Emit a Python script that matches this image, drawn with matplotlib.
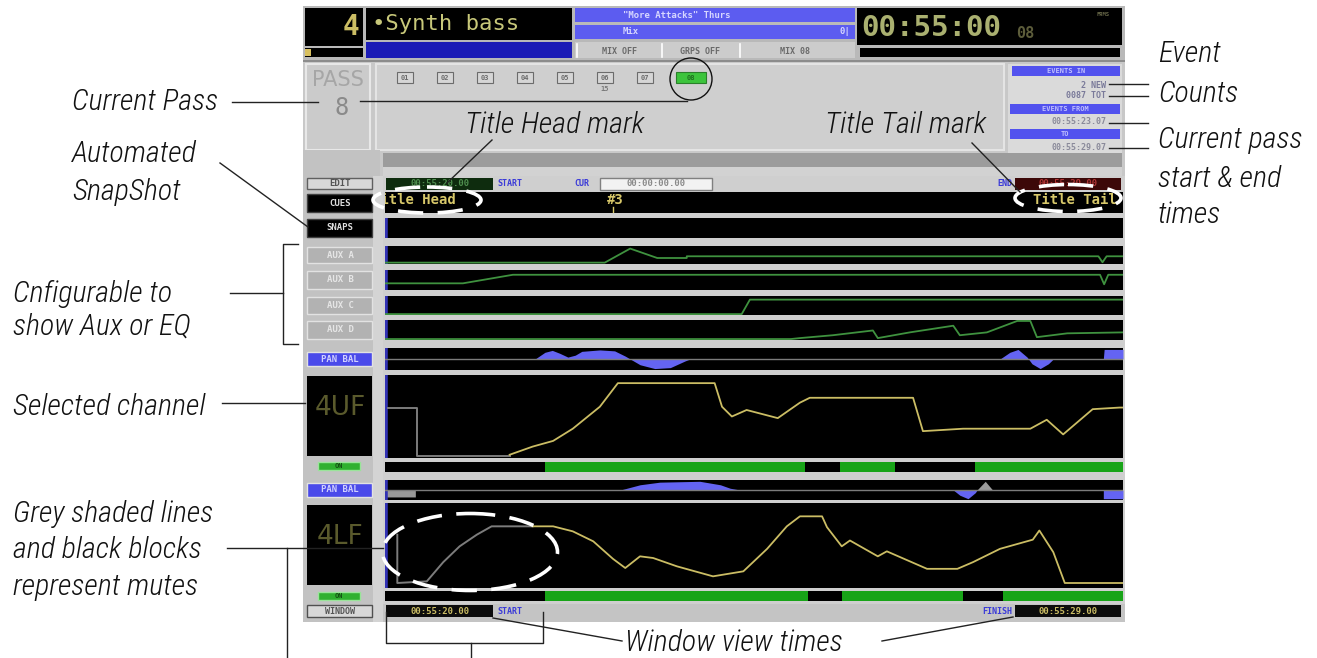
#!/usr/bin/env python3
import numpy as np
import matplotlib.pyplot as plt
from matplotlib import font_manager
from matplotlib.patches import Rectangle, Ellipse

#####################################################################
# data: the window runs from 00:55:20.00 to 00:55:29.00 (seconds past 55 min)
t_start, t_end = 20.0, 29.0

cue_names = ['Title Head', '#3', 'Title Tail']
cue_times = [19.84, 22.70, 27.90]

aux_names = ['AUX A', 'AUX B', 'AUX C', 'AUX D']
auxA_t = [20.0, 22.68, 22.99, 23.32, 23.68, 23.68, 28.70, 28.75, 28.80, 29.0]
auxA_v = [0.08, 0.08, 0.90, 0.35, 0.35, 0.45, 0.45, 0.10, 0.45, 0.45]
auxB_t = [20.0, 20.95, 21.56, 28.72, 28.77, 28.82, 29.0]
auxB_v = [0.35, 0.35, 0.80, 0.80, 0.30, 0.80, 0.80]
auxC_t = [20.0, 24.35, 24.45, 29.0]
auxC_v = [0.05, 0.05, 0.85, 0.85]
auxD_t = [20.0, 24.95, 25.06, 25.46, 25.95, 26.01, 26.40, 26.93, 27.01, 27.34, 27.71, 27.87, 27.95, 28.32, 29.0]
auxD_v = [0.05, 0.05, 0.10, 0.25, 0.50, 0.10, 0.40, 0.75, 0.25, 0.40, 1.00, 1.00, 0.15, 0.35, 0.40]

# pan / balance (-1 left .. +1 right)
pan1_t = [20.0, 21.83, 21.95, 22.04, 22.13, 22.23, 22.32, 22.40, 22.62, 22.80, 22.93, 22.99,
          23.11, 23.29, 23.48, 23.66, 23.72, 27.50, 27.62, 27.72, 27.83, 27.89, 27.99, 28.09,
          28.15, 28.76, 28.77, 29.0]
pan1_v = [0, 0, 0.7, 0.9, 0.6, 0.2, 0.4, 0.8, 0.95, 0.85, 0.3, 0,
          -0.6, -1.0, -0.9, -0.2, 0, 0, 0.7, 1.0, 0.2, -0.5, -1.0, -0.5,
          0, 0, 1.0, 1.0]
pan2_t = [20.0, 22.87, 23.11, 23.35, 23.84, 24.09, 24.21, 24.33, 26.93, 27.01, 27.11, 27.20,
          27.22, 28.76, 28.76, 29.0]
pan2_v = [0, 0, 0.6, 0.9, 1.0, 0.6, 0.2, 0, 0, -0.6, -1.0, -0.3, 0, 0, -1.0, -1.0]
pan2_mute_t = [20.0, 20.37, 20.37, 27.22, 27.32, 27.41]
pan2_mute_v = [-0.8, -0.8, 0, 0, 1.0, 0]

# fader levels (0..1), grey part is the muted part
ch1_name = '4UF'
ch1_grey_t = [20.04, 20.39, 20.39, 21.52]
ch1_grey_v = [0.60, 0.60, 0.01, 0.01]
ch1_t = [21.52, 21.80, 22.05, 22.29, 22.62, 22.84, 24.02, 24.11, 24.23, 24.41, 24.79, 25.06,
         25.18, 26.44, 26.56, 27.05, 27.87, 28.07, 28.27, 28.63, 28.96, 29.0]
ch1_v = [0.02, 0.12, 0.19, 0.34, 0.61, 0.90, 0.90, 0.61, 0.49, 0.57, 0.47, 0.66,
         0.72, 0.72, 0.31, 0.34, 0.34, 0.45, 0.27, 0.58, 0.60, 0.60]
ch1_on = [(21.95, 25.12), (25.55, 26.22), (27.20, 29.0)]

ch2_name = '4LF'
ch2_grey_t = [20.15, 20.15, 20.51, 20.71, 20.91, 21.12, 21.30, 21.80]
ch2_grey_v = [0.62, 0.04, 0.06, 0.29, 0.48, 0.62, 0.72, 0.72]
ch2_t = [21.80, 22.05, 22.29, 22.54, 22.78, 22.93, 23.11, 23.27, 23.56, 24.00, 24.37, 24.66,
         24.90, 25.06, 25.33, 25.39, 25.57, 25.67, 26.01, 26.12, 26.61, 26.98, 27.17, 27.50,
         27.90, 27.98, 28.15, 28.29, 28.96, 29.0]
ch2_v = [0.72, 0.72, 0.66, 0.54, 0.33, 0.22, 0.36, 0.34, 0.24, 0.12, 0.18, 0.45,
         0.72, 0.84, 0.84, 0.71, 0.48, 0.55, 0.36, 0.42, 0.21, 0.21, 0.29, 0.45,
         0.56, 0.67, 0.41, 0.04, 0.04, 0.04]
ch2_on = [(21.95, 25.16), (25.57, 27.05), (27.54, 29.0)]

pass_numbers = ['01', '02', '03', '04', '05', '06', '07', '08']
current_pass = 8

#####################################################################
W, H = 1317, 658
LX0, LX1 = 385, 1123
MONO = 'DejaVu Sans Mono'
YEL = '#cbbd64'
BLUE = '#6464f2'
TXTBLUE = '#3a3ad8'
GREEN = '#18a418'
AUXG = '#3f923f'

# narrow italic face for the callouts, whichever is installed
installed = {f.name for f in font_manager.fontManager.ttflist}
LABEL_FAMILY = 'DejaVu Sans'
for cand in ['Liberation Sans Narrow', 'Roboto Condensed', 'Open Sans Condensed', 'Roboto',
             'Liberation Sans']:
    if cand in installed:
        LABEL_FAMILY = cand
        break

fig = plt.figure(figsize=(W / 100, H / 100), dpi=100)
fig.patch.set_facecolor('white')

# size the callout font so "Current Pass" is about 145 px wide like the reference
probe = fig.text(0, 0, 'Current Pass', fontsize=22, style='italic', weight='light',
                 family=LABEL_FAMILY)
probe_w = probe.get_window_extent(fig.canvas.get_renderer()).width
probe.remove()
LABEL_SIZE = 22 * 146 / probe_w

bg = fig.add_axes([0, 0, 1, 1])
bg.set_xlim(0, W)
bg.set_ylim(H, 0)
bg.axis('off')


def rect(ax, x0, y0, x1, y1, fc, ec='none', lw=0, z=1):
    ax.add_patch(Rectangle((x0, y0), x1 - x0, y1 - y0, fc=fc, ec=ec, lw=lw, zorder=z))


def scr(ax, x, y, s, color, size=6.5, ha='center', weight='bold'):
    ax.text(x, y, s, color=color, fontsize=size, ha=ha, va='center', family=MONO,
            fontweight=weight, zorder=5)


def lane(y0, y1, ylim=(0, 1), edge=True):
    ax = fig.add_axes([LX0 / W, 1 - y1 / H, (LX1 - LX0) / W, (y1 - y0) / H])
    ax.set_xlim(t_start, t_end)
    ax.set_ylim(*ylim)
    ax.set_facecolor('black')
    ax.set_xticks([])
    ax.set_yticks([])
    for s in ax.spines.values():
        s.set_visible(False)
    if edge:
        ax.axvline(t_start, color='#3232b4', lw=4)
    return ax


#####################################################################
# screen body
rect(bg, 303, 6, 1125, 622, '#c4c4c4')
rect(bg, 303, 6, 1125, 60, '#b9b9b9')

# channel number + name
rect(bg, 305, 8, 363, 46, 'black')
scr(bg, 359, 27, '4', YEL, size=20, ha='right')
rect(bg, 305, 48, 363, 57, 'black')
rect(bg, 305, 49, 311, 56, '#d8c060')
rect(bg, 366, 8, 572, 40, 'black')
scr(bg, 372, 24, '\u2022Synth bass', '#c8c87a', size=16, ha='left', weight='normal')
rect(bg, 366, 42, 572, 58, '#1c1cb6')

# title / mix status
rect(bg, 575, 8, 855, 22, '#5c5cf0')
rect(bg, 575, 25, 855, 39, '#5c5cf0')
scr(bg, 623, 15, '"More Attacks" Thurs', '#d6d6ff', size=6.5, ha='left')
scr(bg, 623, 32, 'Mix', '#d6d6ff', size=6.5, ha='left')
scr(bg, 850, 32, '0|', '#d6d6ff', size=6.5, ha='right')
rect(bg, 575, 42, 855, 58, '#cccccc')
for xs in [577, 662, 740]:
    bg.plot([xs, xs], [44, 57], color='white', lw=1.2, zorder=3)
scr(bg, 620, 51, 'MIX OFF', '#6a6a6a', size=6)
scr(bg, 700, 51, 'GRPS OFF', '#6a6a6a', size=6)
scr(bg, 795, 51, 'MIX 08', '#6a6a6a', size=6)

# timecode
rect(bg, 857, 8, 1122, 45, 'black')
scr(bg, 861, 28, '00:55:00', '#aab070', size=21, ha='left')
scr(bg, 1016, 33, '08', '#5c5c3a', size=11, ha='left')
scr(bg, 1103, 15, 'FRMS', '#6a6a4a', size=4, ha='center')
rect(bg, 860, 48, 1120, 57, 'black')

#####################################################################
# pass panel
rect(bg, 303, 60, 1125, 62, '#8c8c8c')
rect(bg, 303, 62, 1125, 176, '#c8c8c8')
rect(bg, 306, 64, 370, 150, '#cbcbcb', '#e8e8e8', 1.5)
bg.text(338, 80, 'PASS', color='#a6a6a6', fontsize=15, ha='center', va='center', zorder=5)
scr(bg, 342, 108, str(current_pass), '#8a8a8a', size=17, weight='normal')
rect(bg, 376, 64, 1004, 150, '#cfcfcf', '#e4e4e4', 1.5)
for i, p in enumerate(pass_numbers):
    if i + 1 == current_pass:
        rect(bg, 676, 72, 706, 83, '#3cc43c', '#2a802a', 0.8, z=3)
        scr(bg, 691, 77.5, p, '#1f6f1f', size=5)
    else:
        xc = 405 + 40 * i
        rect(bg, xc - 8, 72, xc + 8, 83, '#d6d6d6', '#6c6c6c', 0.8, z=3)
        scr(bg, xc, 77.5, p, '#6c6c6c', size=5)
scr(bg, 605, 89, '15', '#7a7a7a', size=5)

# event counts panel
rect(bg, 1008, 64, 1122, 153, '#dadada')
rect(bg, 1012, 66, 1120, 76, '#5252ee')
rect(bg, 1010, 104, 1120, 114, '#5252ee')
rect(bg, 1010, 129, 1120, 139, '#5252ee')
scr(bg, 1066, 71, 'EVENTS IN', '#c0c0ff', size=5)
scr(bg, 1106, 85, '2 NEW', '#7a7a9a', size=6, ha='right')
scr(bg, 1106, 96, '0087 TOT', '#7a7a9a', size=6, ha='right')
scr(bg, 1065, 109, 'EVENTS FROM', '#c0c0ff', size=5)
scr(bg, 1106, 122, '00:55:23.07', '#8a8a9a', size=6, ha='right')
scr(bg, 1065, 134, 'TO', '#c0c0ff', size=5)
scr(bg, 1106, 147, '00:55:29.07', '#8a8a9a', size=6, ha='right')

# scroll strip
rect(bg, 383, 153, 1122, 167, '#9c9c9c')
rect(bg, 383, 167, 1122, 176, '#d2d2d2')

#####################################################################
# left column and lane area
rect(bg, 303, 150, 380, 622, '#c2c2c2')
rect(bg, 373, 176, 383, 622, '#d4d4d4')
rect(bg, 383, 176, 1125, 604, '#cfcfcf')

# edit row
rect(bg, 307, 178, 372, 189, '#d8d8d8', '#606060', 1)
scr(bg, 340, 183.5, 'EDIT', '#555555', size=6.5)
rect(bg, 386, 178, 493, 190, '#0e2c0e')
scr(bg, 440, 184, '00:55:20.00', '#4f8f4f', size=6.5)
scr(bg, 497, 184, 'START', TXTBLUE, size=6, ha='left')
scr(bg, 574, 184, 'CUR', TXTBLUE, size=6, ha='left')
rect(bg, 600, 178, 712, 190, '#f2f2f2', '#808080', 1)
scr(bg, 656, 184, '00:00:00.00', '#8a8a8a', size=6.5)
scr(bg, 1012, 184, 'END', TXTBLUE, size=6, ha='right')
rect(bg, 1015, 178, 1121, 190, '#3c0808')
scr(bg, 1068, 184, '00:55:29.00', '#b03434', size=6.5)

# buttons on the left
buttons = [('CUES', 194, 212, 'black', '#e0e0e0'), ('SNAPS', 219, 237, 'black', '#e0e0e0')]
lane_rows = [(246, 264), (270, 290), (296, 315), (320, 340)]
for name, (y0, y1) in zip(aux_names, lane_rows):
    buttons.append((name, y0 + 1, y1 - 1, '#b2b2b2', '#e6e6e6'))
buttons += [('PAN BAL', 352, 366, '#4a4aea', '#d0d0ff'), ('PAN BAL', 483, 497, '#4a4aea', '#d0d0ff')]
for name, y0, y1, fc, tc in buttons:
    rect(bg, 307, y0, 372, y1, fc, '#e2e2e2' if fc != 'black' else '#404040', 1, z=2)
    scr(bg, 340, (y0 + y1) / 2, name, tc, size=6.5)

for name, y0, y1 in [(ch1_name, 376, 456), (ch2_name, 505, 585)]:
    rect(bg, 307, y0, 372, y1, 'black', z=2)
    bg.text(340, y0 + 32, name, color='#5a5a2c', fontsize=19, ha='center', va='center', zorder=5)
for y0, y1 in [(462, 470), (592, 600)]:
    rect(bg, 318, y0, 360, y1, '#30b030', '#9ae49a', 1, z=2)
    scr(bg, 339, (y0 + y1) / 2, 'ON', '#145014', size=5)

# window row
rect(bg, 307, 605, 372, 617, '#d8d8d8', '#505050', 1)
scr(bg, 340, 611, 'WINDOW', '#555555', size=6)
rect(bg, 386, 605, 493, 617, '#0c0c0c')
scr(bg, 440, 611, '00:55:20.00', YEL, size=6.5)
scr(bg, 497, 611, 'START', TXTBLUE, size=6, ha='left')
scr(bg, 1012, 611, 'FINISH', TXTBLUE, size=6, ha='right')
rect(bg, 1015, 605, 1121, 617, '#0c0c0c')
scr(bg, 1068, 611, '00:55:29.00', YEL, size=6.5)

#####################################################################
# cue + snapshot lanes
ax = lane(192, 213, edge=False)
for name, t in zip(cue_names, cue_times):
    ax.text(t, 0.62, name, color='#d8c86a', fontsize=10, family=MONO, fontweight='bold',
            ha='left', va='center', clip_on=True)
ax.plot([cue_times[1] + 0.08] * 2, [0, 0.3], color='#d8c86a', lw=1)
lane(218, 238)

# aux lanes
aux_data = [(auxA_t, auxA_v), (auxB_t, auxB_v), (auxC_t, auxC_v), (auxD_t, auxD_v)]
for (y0, y1), (tt, vv) in zip(lane_rows, aux_data):
    ax = lane(y0, y1, ylim=(0, 1.05))
    ax.plot(tt, vv, color=AUXG, lw=1.3)

# pan lanes
for (y0, y1), tt, vv, mt, mv in [((348, 370), pan1_t, pan1_v, None, None),
                                 ((480, 500), pan2_t, pan2_v, pan2_mute_t, pan2_mute_v)]:
    ax = lane(y0, y1, ylim=(-1.15, 1.15))
    ax.axhline(0, color='#7c7c7c', lw=1)
    ax.fill_between(tt, 0, vv, color=BLUE, lw=0)
    if mt is not None:
        ax.fill_between(mt, 0, mv, color='#9a9a9a', lw=0)

# fader lanes + mute lanes
for (y0, y1), (m0, m1), gt, gv, tt, vv, on in [
        ((375, 458), (462, 472), ch1_grey_t, ch1_grey_v, ch1_t, ch1_v, ch1_on),
        ((503, 588), (591, 601), ch2_grey_t, ch2_grey_v, ch2_t, ch2_v, ch2_on)]:
    ax = lane(y0, y1, ylim=(-0.02, 1.0))
    ax.plot(gt, gv, color='#7c7c7c', lw=1.4)
    ax.plot(tt, vv, color=YEL, lw=1.3)
    mx = lane(m0, m1, edge=False)
    for a, b in on:
        mx.axvspan(a, b, color=GREEN, lw=0)

#####################################################################
# annotations on top
ov = fig.add_axes([0, 0, 1, 1])
ov.set_xlim(0, W)
ov.set_ylim(H, 0)
ov.axis('off')


def note(x, y, s):
    ov.text(x, y, s, fontsize=LABEL_SIZE, style='italic', weight='light', family=LABEL_FAMILY,
            color='#111111', ha='left', va='baseline')


def seg(xs, ys):
    ov.plot(xs, ys, color='#222222', lw=1)


note(72, 110, 'Current Pass')
note(72, 162, 'Automated')
note(72, 200, 'SnapShot')
note(13, 302, 'Cnfigurable to')
note(13, 335, 'show Aux or EQ')
note(13, 415, 'Selected channel')
note(13, 522, 'Grey shaded lines')
note(13, 558, 'and black blocks')
note(13, 595, 'represent mutes')
note(465, 133, 'Title Head mark')
note(825, 133, 'Title Tail mark')
note(1158, 62, 'Event')
note(1158, 102, 'Counts')
note(1158, 148, 'Current pass')
note(1158, 187, 'start & end')
note(1158, 223, 'times')
note(625, 651, 'Window view times')

seg([232, 318], [102, 102])
seg([360, 687], [101, 101])
ov.add_patch(Ellipse((691, 79), 42, 42, fc='none', ec='#111111', lw=1))
seg([220, 308], [163, 227])
seg([492, 447], [140, 183])
seg([972, 1020], [143, 192])
for yy in [84, 96, 123, 148]:
    seg([1109, 1148], [yy, yy])
seg([230, 283], [293, 293])
seg([298, 283, 283, 298], [244, 244, 344, 344])
seg([222, 305], [403, 403])
seg([227, 383], [548, 548])
seg([287, 287], [548, 658])
seg([622, 493], [641, 618])
seg([882, 1013], [641, 617])
seg([386, 386, 543, 543], [612, 643, 643, 612])
seg([471, 471], [643, 658])

for (cx, cy), ew, eh in [((427, 200), 108, 26), ((1068, 198), 106, 27), ((470, 552), 175, 77)]:
    ov.add_patch(Ellipse((cx, cy), ew, eh, fc='none', ec='white', lw=2.6,
                         linestyle=(0, (7, 4))))

fig.savefig('out.png', dpi=100)
print("All done!")
